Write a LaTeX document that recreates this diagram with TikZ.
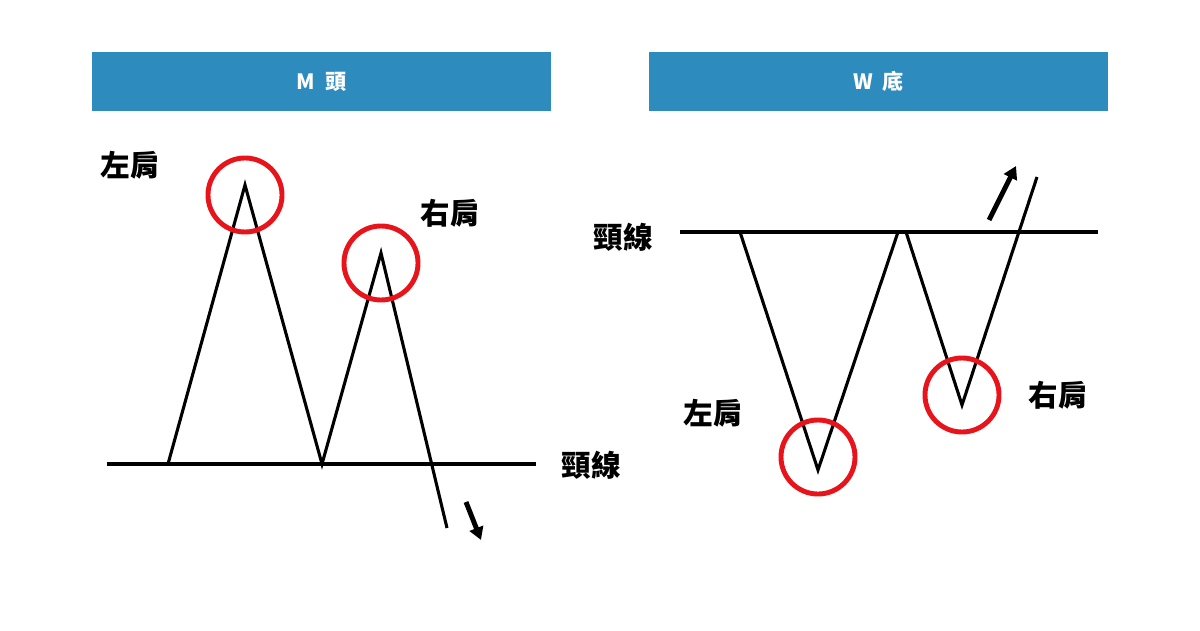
\documentclass[tikz,border=0pt]{standalone}
\usepackage{fontspec}
\usepackage{tikz}
\usetikzlibrary{arrows.meta}
\newfontfamily\cjk{Noto Sans CJK TC}
\definecolor{barblue}{HTML}{2E8BBE}
\definecolor{ringred}{HTML}{E8141B}

\begin{document}
\begin{tikzpicture}[x=0.025cm,y=-0.025cm,
  bar/.style={fill=barblue,draw=none,minimum width=11.475cm,minimum height=1.475cm,text=white,font=\cjk\bfseries\fontsize{15}{15}\selectfont},
  lbl/.style={font=\cjk\bfseries\fontsize{21}{21}\selectfont},
  ring/.style={draw=ringred,line width=3.5pt,circle,minimum size=1.85cm,inner sep=0pt},
  chart/.style={line width=2.2pt,line join=miter},
  trend/.style={line width=3.5pt,-{Triangle[length=9pt,width=10pt]}}]
\useasboundingbox (0,0) rectangle (1200,630);

% headers
\node[bar] (mhead) at (321.5,81.5) {M\ \ 頭};
\node[bar] (whead) at (878.5,81.5) {W\ \ 底};

% M top
\coordinate (mna) at (107,464);
\coordinate (mnb) at (536,464);
\draw[chart] (mna) -- (mnb);
\draw[chart] (168,464) -- (245,185) -- (322,464) -- (381,253) -- (447,528);
\node[ring] (mleft) at (245,195) {};
\node[ring] (mright) at (381,263) {};
\coordinate (mda) at (466,502);
\coordinate (mdb) at (481,540);
\draw[trend] (mda) -- (mdb);
\node[lbl] (mll) at (130,165) {左肩};
\node[lbl] (mrl) at (450,213) {右肩};
\node[lbl] (mnl) at (591,465) {頸線};

% W bottom
\coordinate (wna) at (680,232);
\coordinate (wnb) at (1098,232);
\draw[chart] (wna) -- (wnb);
\draw[chart] (740,232) -- (818,470) -- (898,232);
\draw[chart] (906,232) -- (962,405) -- (1037,177);
\node[ring] (wleft) at (818,457) {};
\node[ring] (wright) at (962,395) {};
\coordinate (wua) at (989,220);
\coordinate (wub) at (1016,166);
\draw[trend] (wua) -- (wub);
\node[lbl] (wnl) at (623,237) {頸線};
\node[lbl] (wll) at (713,413) {左肩};
\node[lbl] (wrl) at (1058,395) {右肩};
\end{tikzpicture}
\end{document}
